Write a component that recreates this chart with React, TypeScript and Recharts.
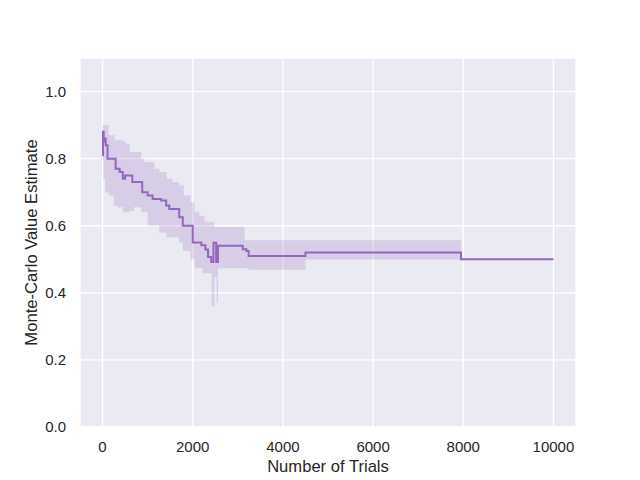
import React from 'react';
import { ComposedChart, Line, Area, XAxis, YAxis, CartesianGrid } from 'recharts';

// running mean estimate (step changes)
const lineTrials = [0, 10, 25, 45, 70, 110, 290, 380, 450, 500, 660, 880, 1000, 1110, 1300, 1410, 1480, 1700, 1780, 2000, 2190, 2280, 2340, 2410, 2460, 2520, 2560, 3110, 3190, 3240, 4500, 7950, 10000];
const lineValues = [0.81, 0.88, 0.85, 0.86, 0.84, 0.8, 0.77, 0.76, 0.74, 0.75, 0.73, 0.7, 0.69, 0.68, 0.675, 0.66, 0.65, 0.625, 0.6, 0.55, 0.542, 0.529, 0.507, 0.492, 0.549, 0.492, 0.54, 0.53, 0.525, 0.51, 0.52, 0.5, 0.5];

// spread across runs
const bandTrials = [0, 20, 60, 133, 150, 250, 266, 330, 450, 525, 600, 700, 860, 930, 1000, 1150, 1260, 1420, 1550, 1700, 1780, 1800, 1950, 2040, 2150, 2220, 2260, 2380, 2420, 2480, 2500, 2530, 2560, 3150, 3240, 4500, 7950, 10000];
const bandHigh = [0.9, 0.9, 0.9, 0.87, 0.87, 0.87, 0.855, 0.855, 0.85, 0.844, 0.82, 0.82, 0.8, 0.79, 0.79, 0.77, 0.76, 0.74, 0.73, 0.72, 0.72, 0.69, 0.67, 0.64, 0.63, 0.63, 0.612, 0.612, 0.612, 0.596, 0.596, 0.596, 0.596, 0.557, 0.557, 0.557, 0.5, 0.5];
const bandLow = [0.81, 0.74, 0.7, 0.69, 0.69, 0.66, 0.66, 0.655, 0.64, 0.64, 0.645, 0.655, 0.64, 0.64, 0.6, 0.6, 0.58, 0.566, 0.566, 0.55, 0.525, 0.525, 0.5, 0.473, 0.473, 0.458, 0.458, 0.458, 0.36, 0.447, 0.447, 0.37, 0.473, 0.473, 0.469, 0.499, 0.5, 0.5];

const xTicks = [0, 2000, 4000, 6000, 8000, 10000];
const yTicks = [0, 0.2, 0.4, 0.6, 0.8, 1.0];

const lineData = lineTrials.map((t, i) => ({ trial: t, estimate: lineValues[i] }));
const bandData = bandTrials.map((t, i) => ({ trial: t, range: [bandLow[i], bandHigh[i]] }));

const FONT = '"Liberation Sans", Arial, sans-serif';
const TEXT = '#262626';
const PURPLE = '#9467bd';

export default function App() {
  return (
    <div style={{ position: 'absolute', left: 0, top: 0 }}>
      <ComposedChart
        width={640}
        height={480}
        margin={{ top: 58, right: 64, bottom: 0, left: 0 }}
        style={{ fontFamily: FONT, background: '#ffffff' }}
      >
        <CartesianGrid fill="#eaeaf2" stroke="#ffffff" strokeWidth={1.3} />
        <XAxis
          dataKey="trial"
          type="number"
          domain={[-500, 10500]}
          ticks={xTicks}
          allowDataOverflow
          axisLine={false}
          tickLine={false}
          tickSize={0}
          tickMargin={14}
          height={53}
          tick={{ fill: TEXT, fontSize: 15 }}
          label={{
            content: () => (
              <text x={328} y={471.5} textAnchor="middle" fill={TEXT} fontSize={16.6} fontFamily={FONT}>
                Number of Trials
              </text>
            ),
          }}
        />
        <YAxis
          type="number"
          domain={[0, 1.1]}
          ticks={yTicks}
          allowDataOverflow
          axisLine={false}
          tickLine={false}
          tickSize={0}
          tickMargin={14}
          width={80}
          tickFormatter={(v: number) => v.toFixed(1)}
          tick={{ fill: TEXT, fontSize: 15 }}
          label={{
            content: () => (
              <text
                x={36.5}
                y={242.5}
                textAnchor="middle"
                fill={TEXT}
                fontSize={16.6}
                fontFamily={FONT}
                transform="rotate(-90, 36.5, 242.5)"
              >
                Monte-Carlo Value Estimate
              </text>
            ),
          }}
        />
        <Area
          data={bandData}
          dataKey="range"
          type="stepAfter"
          fill={PURPLE}
          fillOpacity={0.22}
          stroke="none"
          isAnimationActive={false}
        />
        <Line
          data={lineData}
          dataKey="estimate"
          type="stepAfter"
          stroke={PURPLE}
          strokeWidth={2}
          dot={false}
          isAnimationActive={false}
        />
      </ComposedChart>
    </div>
  );
}
